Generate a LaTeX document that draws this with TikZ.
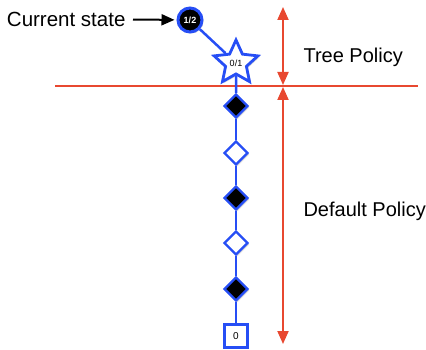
\documentclass[tikz,border=0pt]{standalone}
\usepackage{fontspec}
\setmainfont{Liberation Sans}
\usepackage{tikz}
\usetikzlibrary{arrows.meta,shapes.geometric,shadows}
\definecolor{treeblue}{RGB}{38,78,245}
\definecolor{policyred}{RGB}{232,72,48}
\tikzset{
  shade/.style={drop shadow={opacity=0.3,shadow xshift=1.5pt,shadow yshift=-1.5pt}},
  rootstate/.style={circle,fill=black,draw=treeblue,line width=3pt,minimum size=24pt,inner sep=0pt,
    text=white,font=\fontsize{9}{10}\selectfont\bfseries,shade},
  newstate/.style={star,star points=5,star point ratio=2.1,fill=white,draw=treeblue,line width=2.8pt,
    minimum size=46pt,inner sep=0pt,font=\fontsize{9}{10}\selectfont,shade},
  blackmove/.style={diamond,fill=black,draw=treeblue,line width=2.4pt,minimum size=24pt,inner sep=0pt,shade},
  whitemove/.style={diamond,fill=white,draw=treeblue,line width=2.4pt,minimum size=24pt,inner sep=0pt,shade},
  terminal/.style={rectangle,fill=white,draw=treeblue,line width=2.4pt,minimum size=23pt,inner sep=0pt,
    font=\fontsize{10}{12}\selectfont,shade},
  span/.style={policyred,line width=2pt,{Triangle[length=13pt,width=11pt]}-{Triangle[length=13pt,width=11pt]}},
  caption/.style={anchor=west,font=\fontsize{20}{24}\selectfont}
}
\begin{document}
\begin{tikzpicture}[x=1pt,y=-1pt]
  \useasboundingbox (0,0) rectangle (426,350);
  % cut between the two policies
  \coordinate (cut-w) at (55,86);
  \coordinate (cut-e) at (418,86);
  \draw[policyred,line width=1.5pt] (cut-w) -- (cut-e);
  % the search path
  \node[rootstate] (s0) at (190,20) {1/2};
  \node[newstate] (s1) at (236,63) {0/1};
  \node[blackmove] (m1) at (236,106) {};
  \node[whitemove] (m2) at (236,153) {};
  \node[blackmove] (m3) at (236,198) {};
  \node[whitemove] (m4) at (236,243) {};
  \node[blackmove] (m5) at (236,289) {};
  \node[terminal] (end) at (236,336) {0};
  \path[treeblue,line width=2.5pt] (s0) edge (s1) (s1) edge (m1) (m1) edge (m2) (m2) edge (m3)
    (m3) edge (m4) (m4) edge (m5) (m5) edge (end);
  % pointer to the current state
  \node[anchor=east,font=\fontsize{20.5}{24}\selectfont] (now) at (129,19) {Current state};
  \draw[line width=2pt,-{Triangle[length=13pt,width=11pt]},shorten <=4pt,shorten >=2pt] (now) -- (s0);
  % extents of the two policies
  \coordinate (tree-top) at (283,7);
  \coordinate (tree-bot) at (283,85);
  \coordinate (def-top) at (283,87);
  \coordinate (def-bot) at (283,344);
  \draw[span] (tree-top) -- (tree-bot);
  \draw[span] (def-top) -- (def-bot);
  \node[caption] (tree) at (300,57) {Tree Policy};
  \node[caption] (default) at (300,211) {Default Policy};
\end{tikzpicture}
\end{document}
